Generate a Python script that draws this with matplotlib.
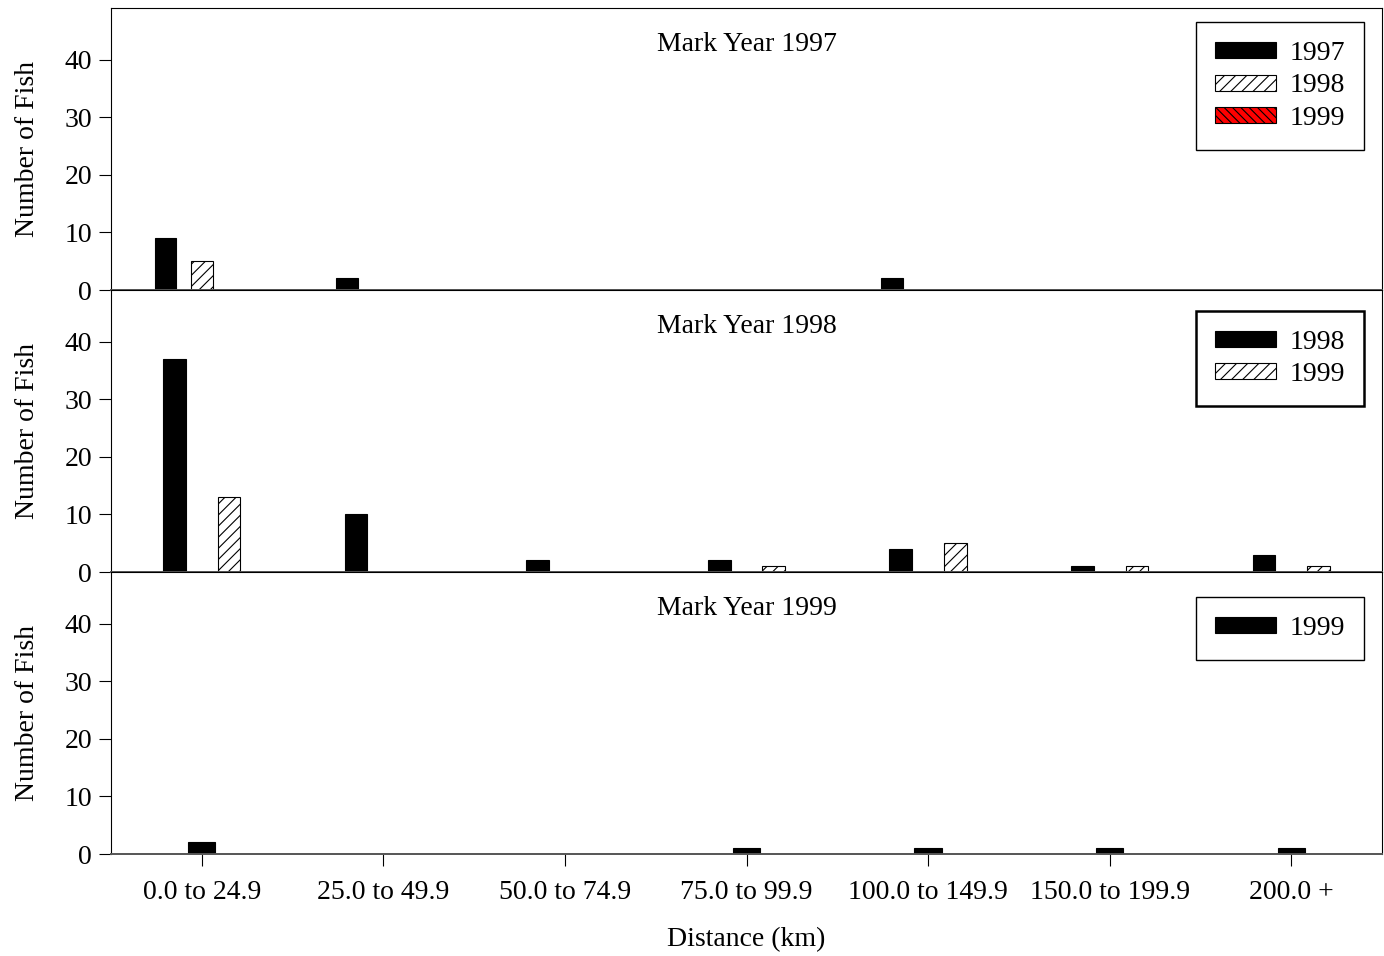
import numpy as np
import matplotlib
matplotlib.use("Agg")
import matplotlib.pyplot as plt
import matplotlib.patches as mpatches

plt.rcParams['font.family'] = ['Liberation Serif', 'DejaVu Serif']
plt.rcParams['font.size'] = 20
plt.rcParams['hatch.linewidth'] = 0.8

categories = ["0.0 to 24.9", "25.0 to 49.9", "50.0 to 74.9", "75.0 to 99.9",
              "100.0 to 149.9", "150.0 to 199.9", "200.0 +"]

# Mark Year 1997 recaptures
mark1997_years = ["1997", "1998", "1999"]
mark1997_counts = [
    [9, 2, 0, 0, 2, 0, 0],
    [5, 0, 0, 0, 0, 0, 0],
    [0, 0, 0, 0, 0, 0, 0],
]

# Mark Year 1998 recaptures
mark1998_years = ["1998", "1999"]
mark1998_counts = [
    [37, 10, 2, 2, 4, 1, 3],
    [13, 0, 0, 1, 5, 1, 1],
]

# Mark Year 1999 recaptures
mark1999_years = ["1999"]
mark1999_counts = [
    [2, 0, 0, 1, 1, 1, 1],
]

panels = [
    ("Mark Year 1997", mark1997_years, mark1997_counts,
     [("black", None), ("white", "///"), ("red", "\\\\\\\\")], 0.20, 0.12, 0.950),
    ("Mark Year 1998", mark1998_years, mark1998_counts,
     [("black", None), ("white", "///")], 0.15, 0.125, 0.926),
    ("Mark Year 1999", mark1999_years, mark1999_counts,
     [("black", None)], 0.0, 0.15, 0.911),
]

fig = plt.figure(figsize=(13.84, 9.56), dpi=100)
left, width = 111 / 1384, 1271 / 1384
tops = [8, 290, 572]
ph = 282
x = np.arange(len(categories))

for i, (title, years, counts, styles, spread, bw, legy) in enumerate(panels):
    bottom = (956 - tops[i] - ph) / 956
    ax = fig.add_axes([left, bottom, width, ph / 956])
    n = len(years)
    offsets = np.linspace(-spread, spread, n) if n > 1 else [0.0]
    handles = []
    for j, (yr, vals) in enumerate(zip(years, counts)):
        fc, hatch = styles[j]
        vals = np.array(vals, dtype=float)
        mask = vals > 0
        ax.bar(x[mask] + offsets[j], vals[mask], width=bw, color=fc,
               edgecolor="black", hatch=hatch, linewidth=0.8)
        handles.append(mpatches.Patch(facecolor=fc, edgecolor="black",
                                      hatch=hatch, linewidth=0.8, label=yr))
    ax.set_xlim(-0.5, len(categories) - 0.5)
    ax.set_ylim(0, 49)
    ax.set_yticks([0, 10, 20, 30, 40])
    ax.set_ylabel("Number of Fish", labelpad=18)
    ax.text(0.5, 0.87, title, transform=ax.transAxes, ha="center", va="center")
    ax.set_xticks(x)
    ax.tick_params(direction="out", length=8.5, width=0.8, pad=5)
    ax.tick_params(axis="x", pad=10)
    if i < 2:
        ax.set_xticklabels([])
    else:
        ax.set_xticklabels(categories)
        ax.set_xlabel("Distance (km)", labelpad=16)
    for s in ax.spines.values():
        s.set_linewidth(0.8)
    ax.spines["bottom"].set_color("#555555")
    ax.spines["bottom"].set_linewidth(1.4)
    leg = ax.legend(handles=handles, loc="upper right",
                    bbox_to_anchor=(0.9858, legy),
                    handlelength=2.2, handleheight=0.5, labelspacing=0.27,
                    fancybox=False, edgecolor="black", framealpha=1,
                    borderpad=0.68, handletextpad=0.5, borderaxespad=0)
    leg.get_frame().set_linewidth(1.0)
    if i == 1:
        leg.get_frame().set_linewidth(1.8)

fig.savefig("out.png", dpi=100)
